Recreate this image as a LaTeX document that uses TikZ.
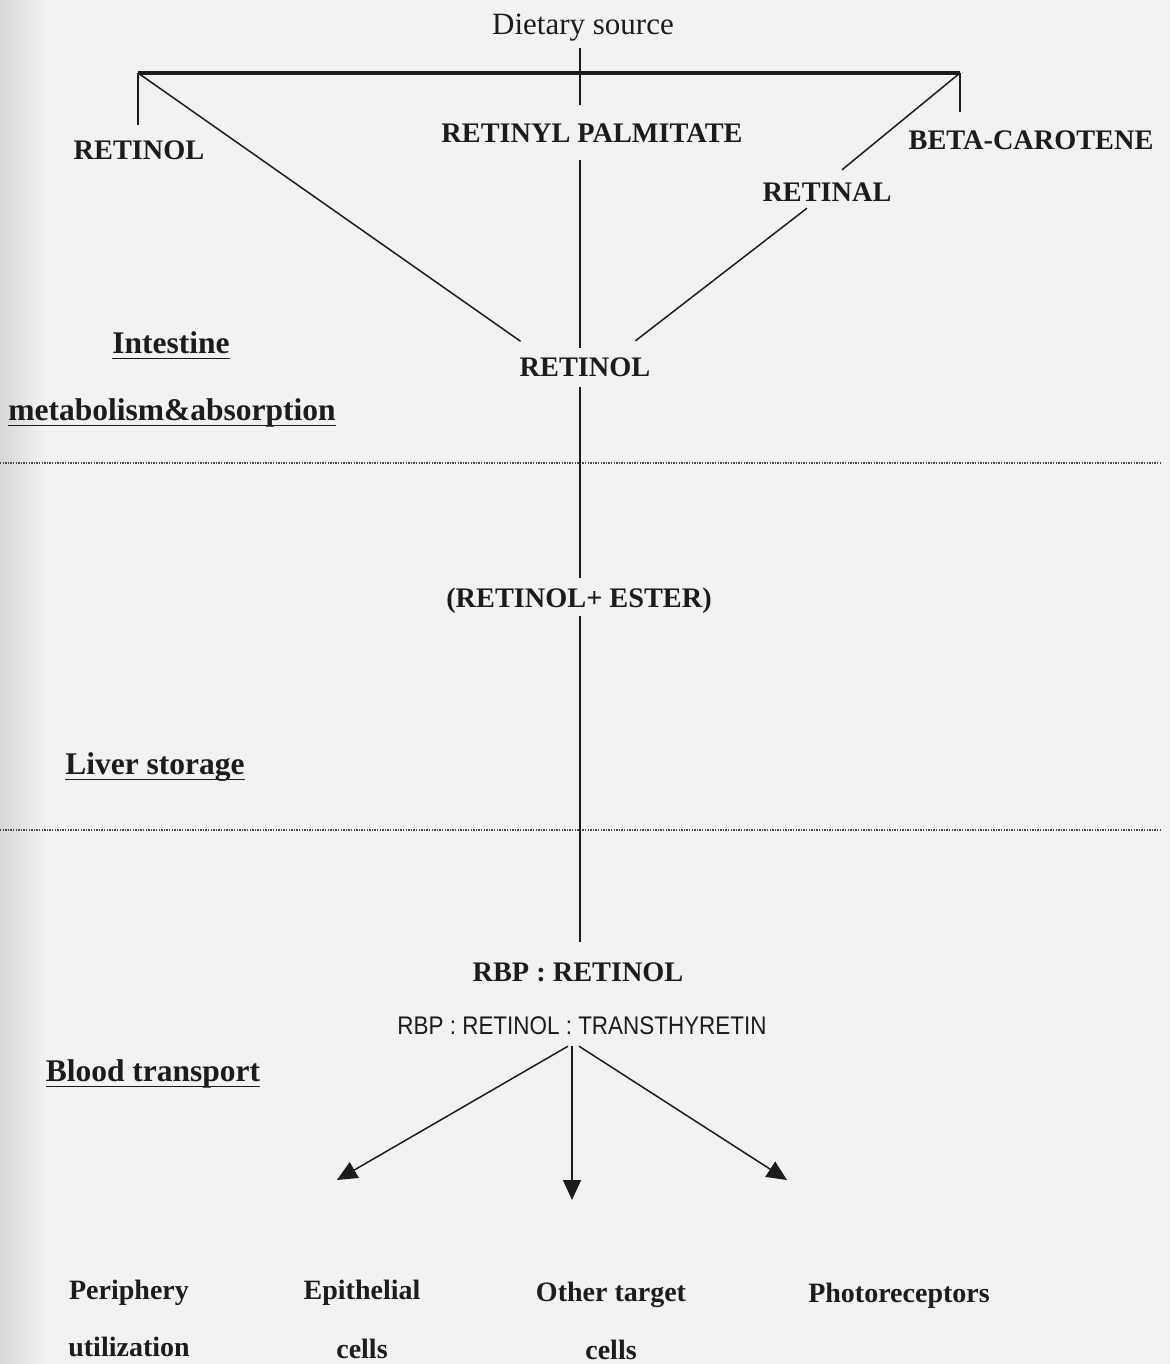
\documentclass[tikz,border=0pt]{standalone}
\usepackage{fontspec}
\setmainfont{Liberation Serif}
\newfontfamily\arialn[FakeStretch=0.88]{Liberation Sans}
\usetikzlibrary{arrows.meta}
\definecolor{ink}{HTML}{1C1C1C}
\definecolor{paper}{HTML}{F2F2F2}
\begin{document}
\begin{tikzpicture}[x=1pt,y=-1pt,
  reglab/.style={font=\fontsize{31}{34}\selectfont, inner sep=0pt, text height=21pt, text depth=0pt, text=ink},
  caplab/.style={font=\fontsize{28.3}{30}\selectfont\bfseries, inner sep=0pt, text height=19pt, text depth=0pt, text=ink},
  headlab/.style={font=\fontsize{31.5}{34}\selectfont\bfseries, inner sep=0pt, text height=21pt, text depth=0pt, text=ink},
  botlab/.style={font=\fontsize{28}{30}\selectfont\bfseries, inner sep=0pt, text height=19pt, text depth=0pt, text=ink},
  sflab/.style={font=\arialn\fontsize{25.5}{28}\selectfont, inner sep=0pt, text height=18pt, text depth=0pt, text=ink},
  thinline/.style={line width=1.5pt, draw=ink},
  thickbar/.style={line width=3.4pt, draw=ink},
  uline/.style={line width=1.6pt, draw=ink},
  dotsep/.style={line width=1.3pt, draw=ink!80, dash pattern=on 1.3pt off 1.3pt},
  arrline/.style={line width=1.5pt, draw=ink, -{Triangle[length=20pt,width=18pt]}}]
\useasboundingbox (0,0) rectangle (1170,1364);
\fill[paper] (0,0) rectangle (1170,1364);
\shade[left color=black!16, right color=paper] (0,0) rectangle (45,1364);

% text nodes
\node[reglab] (diet) at (583,24) {Dietary source};
\node[caplab] (ret1) at (139,150) {RETINOL};
\node[caplab] (rp) at (592,133) {RETINYL PALMITATE};
\node[caplab] (beta) at (1031,140) {BETA-CAROTENE};
\node[caplab] (retal) at (827,192) {RETINAL};
\node[caplab] (rol) at (585,367) {RETINOL};
\node[caplab] (est) at (579,598) {(RETINOL+ ESTER)};
\node[caplab] (rbp) at (578,972) {RBP : RETINOL};
\node[sflab] (ttr) at (582,1025) {RBP : RETINOL : TRANSTHYRETIN};

\node[headlab] (int) at (171,343) {Intestine};
\node[headlab] (meta) at (172,410) {metabolism\&absorption};
\node[headlab] (liver) at (155,764) {Liver storage};
\node[headlab] (blood) at (153,1071) {Blood transport};

\node[botlab] (peri) at (129,1290) {Periphery};
\node[botlab] (util) at (129,1347) {utilization};
\node[botlab] (epi) at (362,1290) {Epithelial};
\node[botlab] (cel1) at (362,1349) {cells};
\node[botlab] (oth) at (611,1292) {Other target};
\node[botlab] (cel2) at (611,1350) {cells};
\node[botlab] (photo) at (899,1293) {Photoreceptors};

% underlines
\foreach \n in {int,meta,liver,blood}
  \draw[uline] ([yshift=-5pt]\n.base west) -- ([yshift=-5pt]\n.base east);

% coordinates
\coordinate (sp) at (580,0);
\coordinate (tl) at (138,73);
\coordinate (tr) at (960,73);
\coordinate (d1l) at (0,463);
\coordinate (d1r) at (1160,463);
\coordinate (d2l) at (0,830);
\coordinate (d2r) at (1160,830);
\coordinate (a1) at (337,1180);
\coordinate (a2) at (572,1200);
\coordinate (a3) at (787,1180);

% dotted separators
\draw[dotsep] (d1l) -- (d1r);
\draw[dotsep] (d2l) -- (d2r);

% top bar
\draw[thickbar] (tl) -- (tr);
\draw[thinline] (tl) -- ([yshift=15.5pt]tl |- ret1.north);
\draw[thinline] (tr) -- ([yshift=18.5pt]tr |- beta.north);

% spine
\draw[thinline] ([yshift=-13pt]sp |- diet.south) -- ([yshift=18pt]sp |- rp.north);
\draw[thinline] ([yshift=-17pt]sp |- rp.south) -- ([yshift=9.5pt]sp |- rol.north);
\draw[thinline] ([yshift=-10.5pt]sp |- rol.south) -- ([yshift=10.5pt]sp |- est.north);
\draw[thinline] ([yshift=-8.5pt]sp |- est.south) -- ([yshift=20.5pt]sp |- rbp.north);

% diagonals
\draw[thinline] (tl) -- ([xshift=1pt,yshift=16pt]rol.north west);
\draw[thinline] (tr) -- ([xshift=15pt,yshift=12.5pt]retal.north);
\draw[thinline] ([xshift=-20pt,yshift=-6.5pt]retal.south) -- ([xshift=-15pt,yshift=16.5pt]rol.north east);

% arrows
\draw[arrline] ([xshift=-14pt,yshift=-12pt]ttr.south) -- (a1);
\draw[arrline] ([xshift=-10pt,yshift=-12pt]ttr.south) -- (a2);
\draw[arrline] ([xshift=-3pt,yshift=-12pt]ttr.south) -- (a3);
\end{tikzpicture}
\end{document}
